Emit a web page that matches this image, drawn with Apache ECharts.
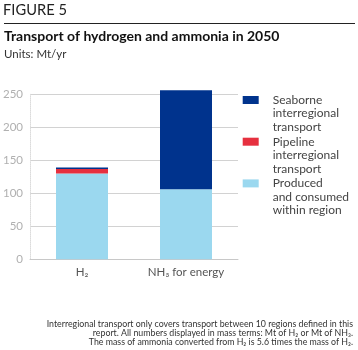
<!DOCTYPE html>
<html><head><meta charset="utf-8">
<script src="https://cdn.jsdelivr.net/npm/echarts@6/dist/echarts.min.js"></script>
<style>html,body{margin:0;padding:0;background:#fff}#c{width:358px;height:350px}</style>
</head><body><div id="c"></div>
<script>
const categories = ['H\u2082', 'NH\u2083 for energy'];
const produced = [130, 106];
const pipeline = [7, 0];
const seaborne = [2, 150];
const yTicks = [0, 50, 100, 150, 200, 250];
const seriesNames = ['Seaborne\ninterregional\ntransport', 'Pipeline\ninterregional\ntransport', 'Produced\nand consumed\nwithin region'];
const footnote = [
  'Interregional transport only covers transport between 10 regions defined in this',
  'report. All numbers displayed in mass terms: Mt of H\u2082 or Mt of NH\u2083.',
  'The mass of ammonia converted from H\u2082 is 5.6 times the mass of H\u2082.'
];
const colors = {sea: '#00338d', pipe: '#e6303f', prod: '#9bd8ef'};
const FONT = 'Lato, "Noto Sans", sans-serif';

const chart = echarts.init(document.getElementById('c'), null, {renderer: 'canvas'});
const graphics = [
  {type: 'text', left: 3, top: 3, style: {text: 'FIGURE 5', fontSize: 14.7, fill: '#222', fontFamily: FONT}},
  {type: 'rect', shape: {x: 4, y: 23, width: 351, height: 1}, style: {fill: '#222'}},
  {type: 'text', left: 4, top: 29.5, style: {text: 'Transport of hydrogen and ammonia in 2050', fontSize: 14, fontWeight: 'bold', fill: '#111', fontFamily: FONT}},
  {type: 'text', left: 4, top: 48, style: {text: 'Units: Mt/yr', fontSize: 11.5, fill: '#333', fontFamily: FONT}}
];
footnote.forEach(function (t, i) {
  graphics.push({type: 'text', x: 353, y: 324 + i * 8.9, style: {text: t, fontSize: 8.8, align: 'right', verticalAlign: 'middle', fill: '#333', fontFamily: FONT}});
});
chart.setOption({
  animation: false,
  textStyle: {fontFamily: FONT},
  grid: {left: 26.7, right: 120, top: 94.3, bottom: 90.7},
  xAxis: {
    type: 'category', data: categories,
    axisLine: {lineStyle: {color: '#c8c8c8'}},
    axisTick: {show: false},
    axisLabel: {color: '#555', fontSize: 11.5, margin: 7, fontFamily: FONT}
  },
  yAxis: {
    type: 'value', min: yTicks[0], max: yTicks[yTicks.length - 1], interval: 50,
    axisLine: {show: true, lineStyle: {color: '#dcdcdc', type: 'dotted'}},
    axisTick: {show: false},
    splitLine: {lineStyle: {color: '#d2d2d2'}},
    axisLabel: {color: '#b0b0b0', fontSize: 11.5, margin: 7, fontFamily: FONT}
  },
  legend: {
    orient: 'vertical', left: 242.7, top: 66.25, padding: 0,
    itemWidth: 16, itemHeight: 8, itemGap: -25.8,
    icon: 'rect',
    data: [seriesNames[0], seriesNames[1], seriesNames[2]],
    formatter: function (n) { return '\n\n' + n; },
    textStyle: {color: '#444', fontSize: 12, lineHeight: 13.5, padding: [0, 0, 0, 9], fontFamily: FONT}
  },
  series: [
    {name: seriesNames[2], type: 'bar', stack: 't', data: produced, barWidth: 52, clip: false, itemStyle: {color: colors.prod}},
    {name: seriesNames[1], type: 'bar', stack: 't', data: pipeline, barWidth: 52, clip: false, itemStyle: {color: colors.pipe}},
    {name: seriesNames[0], type: 'bar', stack: 't', data: seaborne, barWidth: 52, clip: false, itemStyle: {color: colors.sea}}
  ],
  graphic: graphics
});
</script></body></html>
